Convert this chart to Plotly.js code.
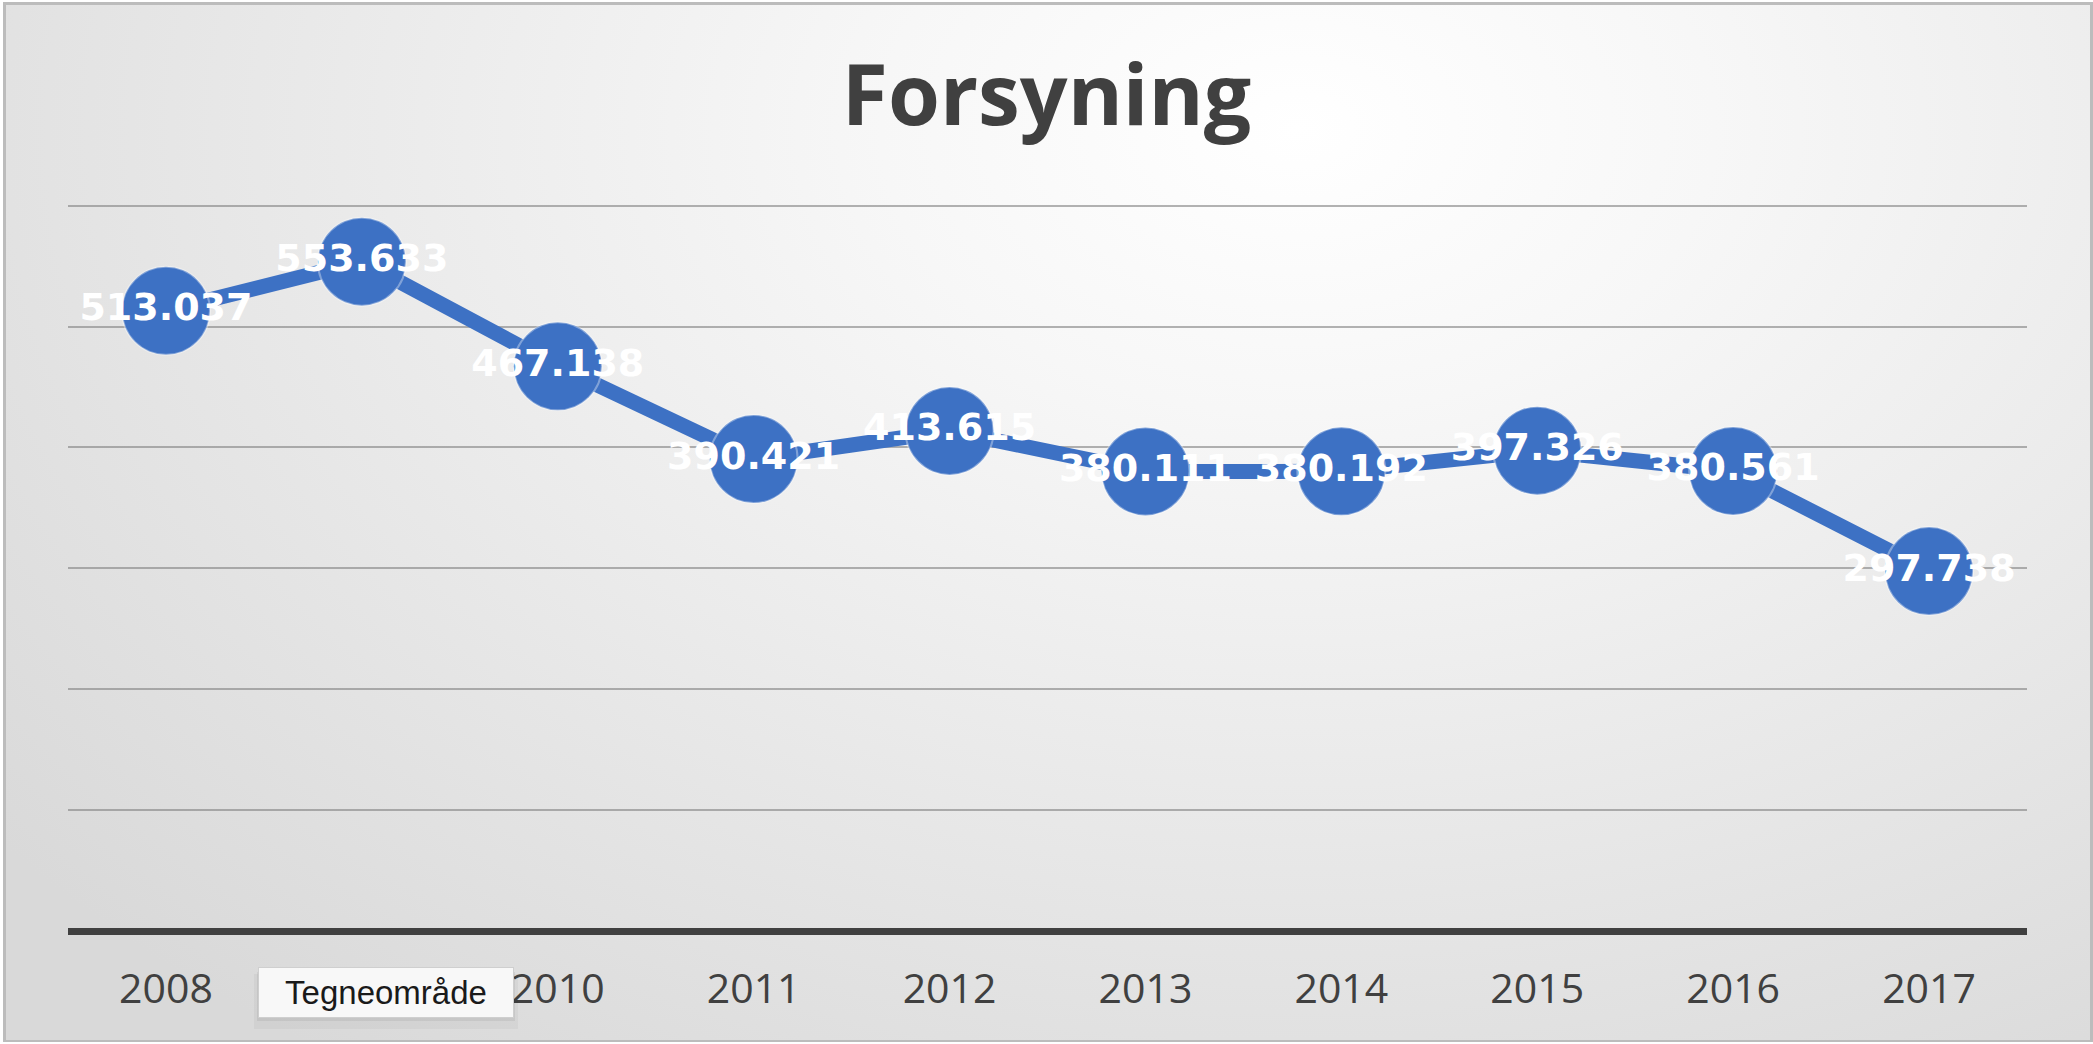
<!DOCTYPE html>
<html>
<head>
<meta charset="utf-8">
<script src="https://cdn.plot.ly/plotly-3.0.1.min.js"></script>
<style>
  html, body { margin: 0; padding: 0; width: 2093px; height: 1044px; overflow: hidden; background: #ffffff; }
  #frame {
    position: absolute; left: 3px; top: 2px; width: 2090px; height: 1040px;
    border: 3px solid #bcbcbc; border-bottom-width: 2px; box-sizing: border-box;
    background: radial-gradient(ellipse 80% 110% at 62% 12%, #ffffff 0%, #f7f7f7 25%, #e9e9e9 60%, #d9d9d9 100%);
  }
  #chart { position: absolute; left: 0; top: 0; width: 2093px; height: 1044px; }
</style>
</head>
<body>
<div id="frame"></div>
<div id="chart"></div>
<script>
const years = ['2008','2009','2010','2011','2012','2013','2014','2015','2016','2017'];
const values = [513.037, 553.633, 467.138, 390.421, 413.615, 380.111, 380.192, 397.326, 380.561, 297.738];
const valueLabels = ['513.037','553.633','467.138','390.421','413.615','380.111','380.192','397.326','380.561','297.738'];
const chartTitle = 'Forsyning';
const tooltipText = 'Tegneområde';

// plot-area geometry (pixels)
const W = 2093, Hpx = 1044;
const plotL = 68, plotR = 2027, axisY = 931, topGridY = 206;
const yMax = 603;
const plotH = (axisY - topGridY) * yMax / 600;
const plotT = axisY - plotH;
const plotW = plotR - plotL;
const px2x = p => (p - plotL) / plotW;
const px2y = p => (axisY - p) / plotH;

// tooltip box in pixels
const tip = { x0: 258, x1: 514, y0: 968, y1: 1017 };

const trace = {
  type: 'scatter',
  mode: 'lines+markers+text',
  x: years,
  y: values,
  text: valueLabels,
  textposition: 'middle center',
  textfont: { family: 'DejaVu Sans', size: 38, color: '#ffffff', weight: 'bold' },
  line: { color: '#3d71c4', width: 15 },
  marker: { color: '#3d71c4', size: 88, line: { color: 'rgba(255,255,255,0.35)', width: 2 } },
  hoverinfo: 'skip',
  cliponaxis: false
};

const layout = {
  width: W, height: Hpx,
  paper_bgcolor: 'rgba(0,0,0,0)',
  plot_bgcolor: 'rgba(0,0,0,0)',
  margin: { l: plotL, r: W - plotR, t: plotT, b: Hpx - axisY, pad: 0 },
  showlegend: false,
  title: {
    text: chartTitle,
    x: 0.5, xanchor: 'center',
    y: 1 - 96 / Hpx, yanchor: 'middle',
    font: { family: 'Open Sans', size: 84, color: '#404040', weight: 'bold' }
  },
  xaxis: {
    type: 'category',
    range: [-0.5, 9.5],
    showgrid: false,
    showline: false,
    zeroline: false,
    ticks: '',
    ticklabelstandoff: 30,
    tickfont: { family: 'Open Sans', size: 41, color: '#404040' },
    fixedrange: true
  },
  yaxis: {
    range: [0, yMax],
    dtick: 100,
    tick0: 0,
    showticklabels: false,
    showgrid: true,
    gridcolor: 'rgba(128,128,128,0.6)',
    gridwidth: 2,
    zeroline: true,
    zerolinecolor: '#404040',
    zerolinewidth: 7,
    showline: false,
    fixedrange: true
  },
  shapes: [
    { type: 'rect', xref: 'paper', yref: 'paper', layer: 'above',
      x0: px2x(tip.x0 - 4), x1: px2x(tip.x1 + 4), y0: px2y(tip.y1 + 12), y1: px2y(tip.y0 + 6),
      fillcolor: 'rgba(0,0,0,0.035)', line: { width: 0 } },
    { type: 'rect', xref: 'paper', yref: 'paper', layer: 'above',
      x0: px2x(tip.x0 - 1), x1: px2x(tip.x1 + 1), y0: px2y(tip.y1 + 4), y1: px2y(tip.y0 + 4),
      fillcolor: 'rgba(0,0,0,0.06)', line: { width: 0 } }
  ],
  annotations: [{
    text: tooltipText,
    xref: 'paper', yref: 'paper',
    x: px2x((tip.x0 + tip.x1) / 2), y: px2y((tip.y0 + tip.y1) / 2),
    xanchor: 'center', yanchor: 'middle',
    width: tip.x1 - tip.x0 - 14,
    align: 'center',
    showarrow: false,
    font: { family: 'Liberation Sans', size: 33, color: '#1a1a1a' },
    bgcolor: '#f8f8f8',
    bordercolor: '#cfcfcf',
    borderwidth: 1,
    borderpad: 6
  }]
};

Plotly.newPlot('chart', [trace], layout, { staticPlot: true, displayModeBar: false });
</script>
</body>
</html>
